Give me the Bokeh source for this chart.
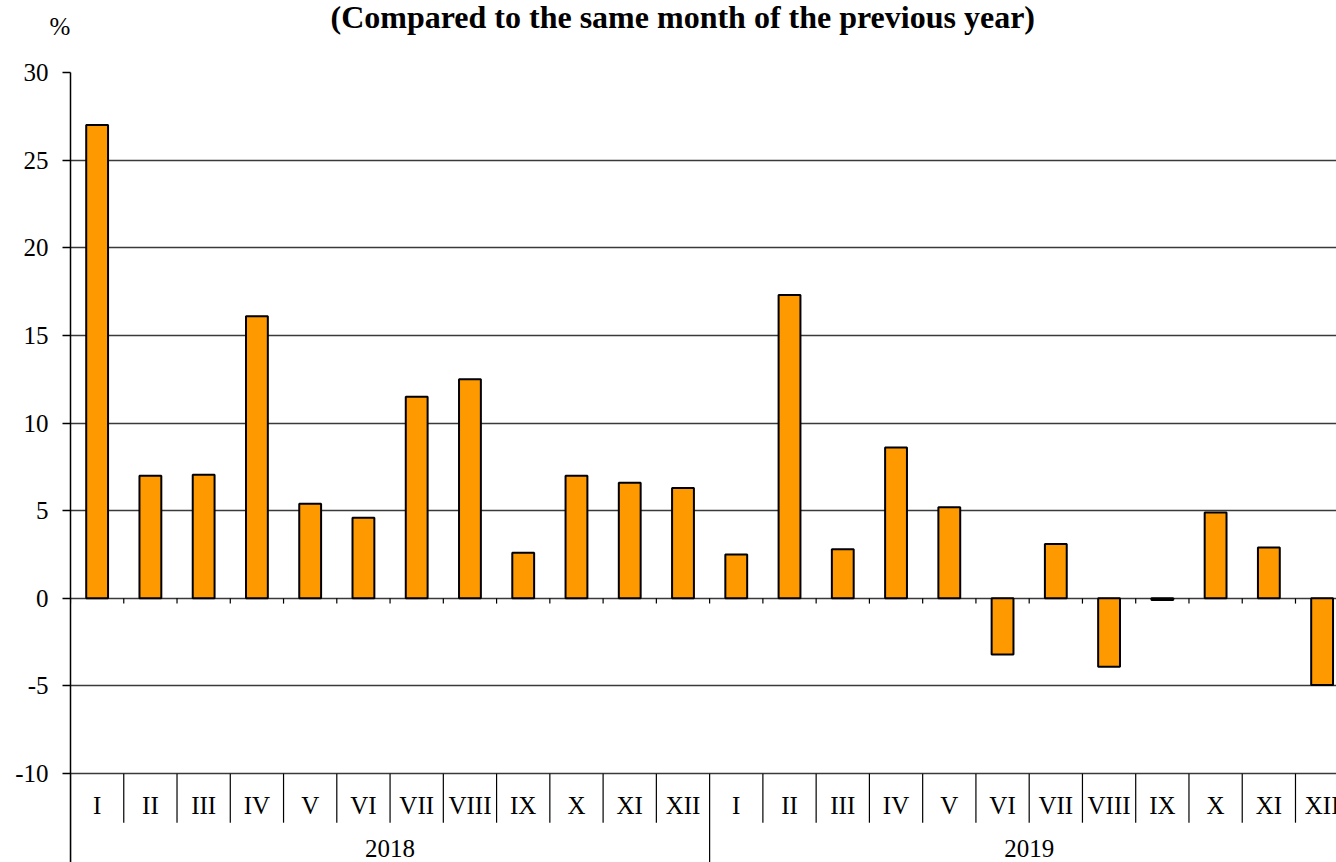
from bokeh.plotting import figure
from bokeh.models import ColumnDataSource, FixedTicker, Range1d, Title
from bokeh.core.properties import value
from bokeh.embed import file_html
from bokeh.resources import INLINE

# ---- data ----
years = ["2018", "2019"]
months = ["I", "II", "III", "IV", "V", "VI", "VII", "VIII", "IX", "X", "XI", "XII"]
growth_2018 = [27.0, 7.0, 7.05, 16.1, 5.4, 4.6, 11.5, 12.5, 2.6, 7.0, 6.6, 6.3]
growth_2019 = [2.5, 17.3, 2.8, 8.6, 5.2, -3.2, 3.1, -3.9, -0.1, 4.9, 2.9, -4.95]
y_ticks = [-10, -5, 0, 5, 10, 15, 20, 25, 30]
title_text = "(Compared to the same month of the previous year)"
unit_label = "%"

# ---- derived ----
values = growth_2018 + growth_2019
n = len(values)
centers = [i + 0.5 for i in range(n)]
month_labels = months * len(years)
y_min_tick = min(y_ticks)

FONT = "Liberation Serif"

p = figure(width=1336, height=862, output_backend="svg", toolbar_location=None,
           x_range=Range1d(0, 23.77), y_range=Range1d(-15.07, 30),
           x_axis_location=None, min_border_left=70, min_border_top=72,
           min_border_right=0, min_border_bottom=0, title=None)
p.outline_line_color = None
p.background_fill_color = "white"
p.border_fill_color = "white"

# y axis
yax = p.yaxis[0]
yax.ticker = FixedTicker(ticks=y_ticks)
yax.major_label_overrides = {t: str(t) for t in y_ticks}
yax.axis_line_color = "black"
yax.axis_line_width = 1.5
yax.major_tick_out = 8
yax.major_tick_in = 0
yax.major_tick_line_color = "black"
yax.major_tick_line_width = 1.5
yax.minor_tick_line_color = None
yax.major_label_text_font = FONT
yax.major_label_text_font_size = "25px"
yax.major_label_text_color = "black"
yax.major_label_standoff = 14

p.xgrid.visible = False
p.ygrid.ticker = FixedTicker(ticks=y_ticks)
p.ygrid.grid_line_color = "#3a3a3a"
p.ygrid.grid_line_width = 1.5

# bars
src = ColumnDataSource(dict(x=centers, top=values))
p.vbar(x="x", top="top", bottom=0, width=0.41, source=src,
       fill_color="#FF9900", line_color="black", line_width=2)

# small ticks below the zero line at category boundaries
bounds = list(range(0, n + 1))
p.segment(x0=bounds, y0=[0] * len(bounds), x1=bounds, y1=[-0.3] * len(bounds),
          line_color="black", line_width=1.2)

# category separators in label band
month_sep = [b for b in bounds if b % 12 != 0]
year_sep = [b for b in bounds if b % 12 == 0]
p.segment(x0=month_sep, y0=[y_min_tick] * len(month_sep), x1=month_sep,
          y1=[y_min_tick - 2.8] * len(month_sep), line_color="black", line_width=1.2)
p.segment(x0=year_sep, y0=[y_min_tick] * len(year_sep), x1=year_sep,
          y1=[y_min_tick - 6] * len(year_sep), line_color="black", line_width=1.2)

# month labels
p.text(x=centers, y=[y_min_tick - 1.8] * n, text=month_labels,
       text_font=value(FONT), text_font_size="25px", text_color="black",
       text_align="center", text_baseline="middle")

# year labels
year_x = [12 * k + 6 for k in range(len(years))]
p.text(x=year_x, y=[y_min_tick - 4.25] * len(years), text=years,
       text_font=value(FONT), text_font_size="25px", text_color="black",
       text_align="center", text_baseline="middle")

# unit label (a blank second line lifts it above the axis top) and title
p.add_layout(Title(text=unit_label + "\n ", align="left", offset=-21, standoff=12,
                   text_font=FONT, text_font_size="25px", text_font_style="normal",
                   text_color="black"), "above")
p.add_layout(Title(text=title_text, align="left", offset=260, standoff=-60,
                   text_font=FONT, text_font_size="32px", text_font_style="bold",
                   text_color="black"), "above")

open("out.html", "w").write(file_html(p, INLINE))
